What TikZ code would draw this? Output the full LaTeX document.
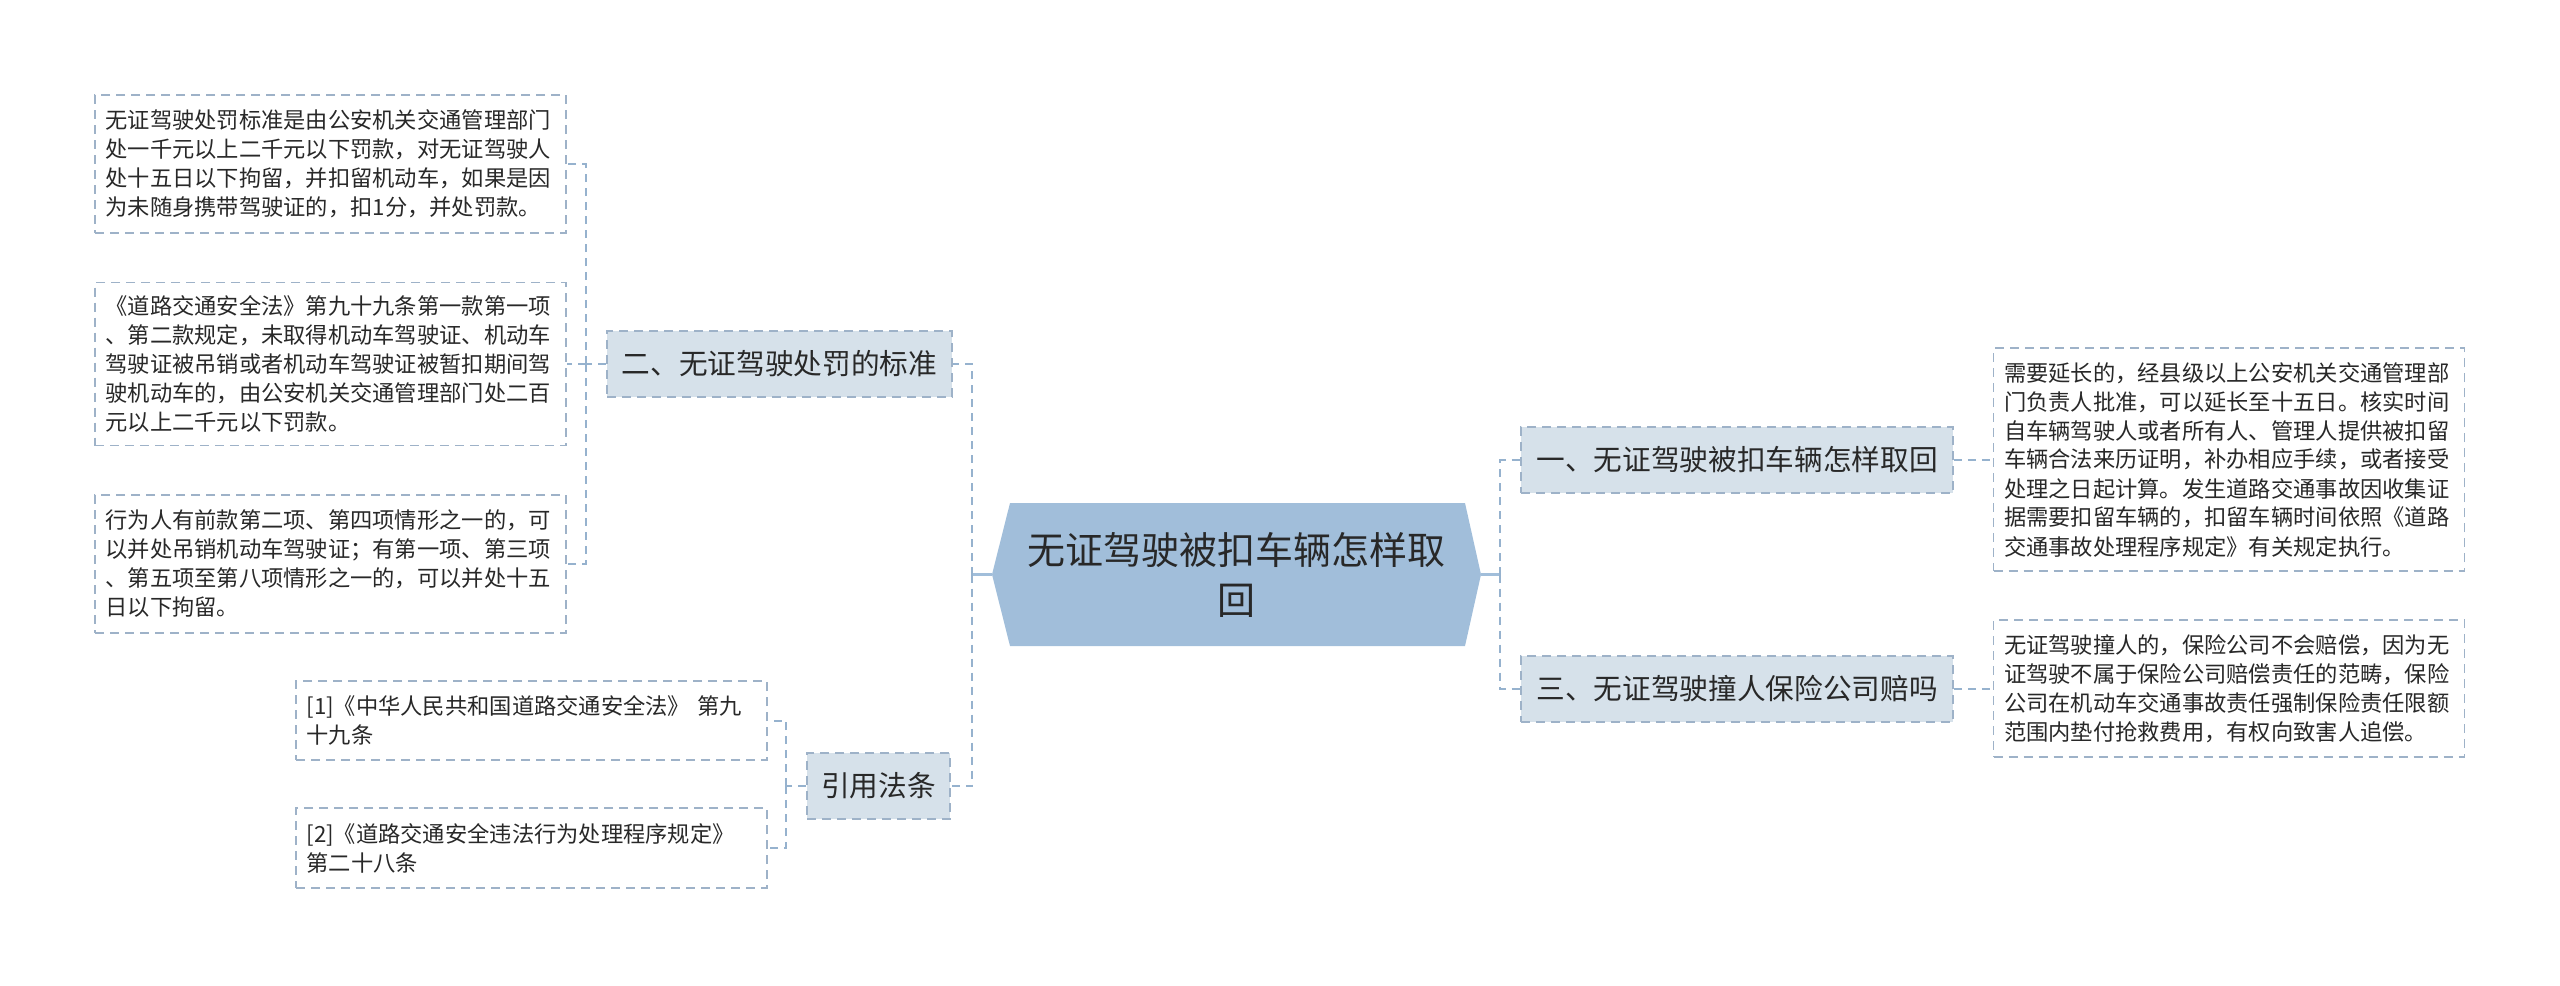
\documentclass[tikz,border=0pt]{standalone}
\usepackage{fontspec}
\setmainfont{Noto Sans CJK SC}
\definecolor{rootfill}{RGB}{161,190,218}
\definecolor{topicfill}{RGB}{214,225,234}
\definecolor{bordc}{RGB}{158,178,200}
\definecolor{connc}{RGB}{150,178,206}
\definecolor{txt}{RGB}{40,40,40}
\begin{document}
\begin{tikzpicture}[x=0.3pt,y=-0.3pt,
  leaf/.style={draw=bordc, dash pattern=on 2.7pt off 1.8pt, line width=0.5pt, fill=white, text=txt,
    font=\fontsize{6.68pt}{8.7pt}\selectfont, align=left, text width=135pt, inner xsep=3.15pt, inner ysep=0pt},
  topic/.style={draw=bordc, dash pattern=on 2.7pt off 1.8pt, line width=0.5pt, fill=topicfill, text=txt,
    font=\fontsize{8.6pt}{10pt}\selectfont, minimum height=19.8pt, inner xsep=0pt, inner ysep=0pt},
  conn/.style={draw=connc, line width=0.6pt, dash pattern=on 2.4pt off 1.8pt},
  stub/.style={draw=rootfill, line width=0.9pt}]
\useasboundingbox (0,0) rectangle (2560,985);

% root
\fill[rootfill] (992,574.5) -- (1010,503) -- (1465,503) -- (1481,574.5) -- (1465,646) -- (1010,646) -- cycle;
\node[font=\fontsize{11.4pt}{15pt}\selectfont, align=center, text=txt] (root) at (1236.5,574.5) {无证驾驶被扣车辆怎样取\\回};
\coordinate (rootL) at (992,574.5);
\coordinate (rootR) at (1481,574.5);

% topics
\node[topic, minimum width=103.5pt] (t2) at (779.5,364) {二、无证驾驶处罚的标准};
\node[topic, minimum width=42.9pt] (tref) at (878.5,786) {引用法条};
\node[topic, minimum width=129.6pt] (t1) at (1737,460) {一、无证驾驶被扣车辆怎样取回};
\node[topic, minimum width=129.6pt] (t3) at (1737,689) {三、无证驾驶撞人保险公司赔吗};

% left leaves
\node[leaf, minimum height=41.4pt] (la) at (330.5,164) {无证驾驶处罚标准是由公安机关交通管理部门\\处一千元以上二千元以下罚款，对无证驾驶人\\处十五日以下拘留，并扣留机动车，如果是因\\为未随身携带驾驶证的，扣1分，并处罚款。};
\node[leaf, minimum height=48.9pt] (lb) at (330.5,364) {《道路交通安全法》第九十九条第一款第一项\\、第二款规定，未取得机动车驾驶证、机动车\\驾驶证被吊销或者机动车驾驶证被暂扣期间驾\\驶机动车的，由公安机关交通管理部门处二百\\元以上二千元以下罚款。};
\node[leaf, minimum height=41.4pt] (lc) at (330.5,564) {行为人有前款第二项、第四项情形之一的，可\\以并处吊销机动车驾驶证；有第一项、第三项\\、第五项至第八项情形之一的，可以并处十五\\日以下拘留。};

% references
\node[leaf, minimum height=23.7pt] (r1) at (531.5,720.5) {[1]《中华人民共和国道路交通安全法》 第九\\十九条};
\node[leaf, minimum height=24pt] (r2) at (531.5,848) {[2]《道路交通安全违法行为处理程序规定》\\第二十八条};

% right leaves
\node[leaf, minimum height=66.9pt] (rt) at (2229,459.5) {需要延长的，经县级以上公安机关交通管理部\\门负责人批准，可以延长至十五日。核实时间\\自车辆驾驶人或者所有人、管理人提供被扣留\\车辆合法来历证明，补办相应手续，或者接受\\处理之日起计算。发生道路交通事故因收集证\\据需要扣留车辆的，扣留车辆时间依照《道路\\交通事故处理程序规定》有关规定执行。};
\node[leaf, minimum height=41.1pt] (rb) at (2229,688.5) {无证驾驶撞人的，保险公司不会赔偿，因为无\\证驾驶不属于保险公司赔偿责任的范畴，保险\\公司在机动车交通事故责任强制保险责任限额\\范围内垫付抢救费用，有权向致害人追偿。};

% connectors from root
\coordinate (bL) at (972,574.5);
\coordinate (bR) at (1500,574.5);
\draw[stub] (rootL) -- (bL);
\draw[stub] (rootR) -- (bR);
\draw[conn] (bL) |- (t2.east);
\draw[conn] (bL) |- (tref.east);
\draw[conn] (bR) |- (t1.west);
\draw[conn] (bR) |- (t3.west);

% topic 2 bracket
\coordinate (b2) at ([xshift=-6pt]t2.west);
\draw[conn] (t2.west) -- (b2);
\draw[conn] (b2) |- (la.east);
\draw[conn] (b2) |- (lb.east);
\draw[conn] (b2) |- (lc.east);

% reference bracket
\coordinate (bref) at ([xshift=-6pt]tref.west);
\draw[conn] (tref.west) -- (bref);
\draw[conn] (bref) |- (r1.east);
\draw[conn] (bref) |- (r2.east);

% right topics to leaves
\draw[conn] (t1.east) -- (t1.east -| rt.west);
\draw[conn] (t3.east) -- (t3.east -| rb.west);
\end{tikzpicture}
\end{document}
